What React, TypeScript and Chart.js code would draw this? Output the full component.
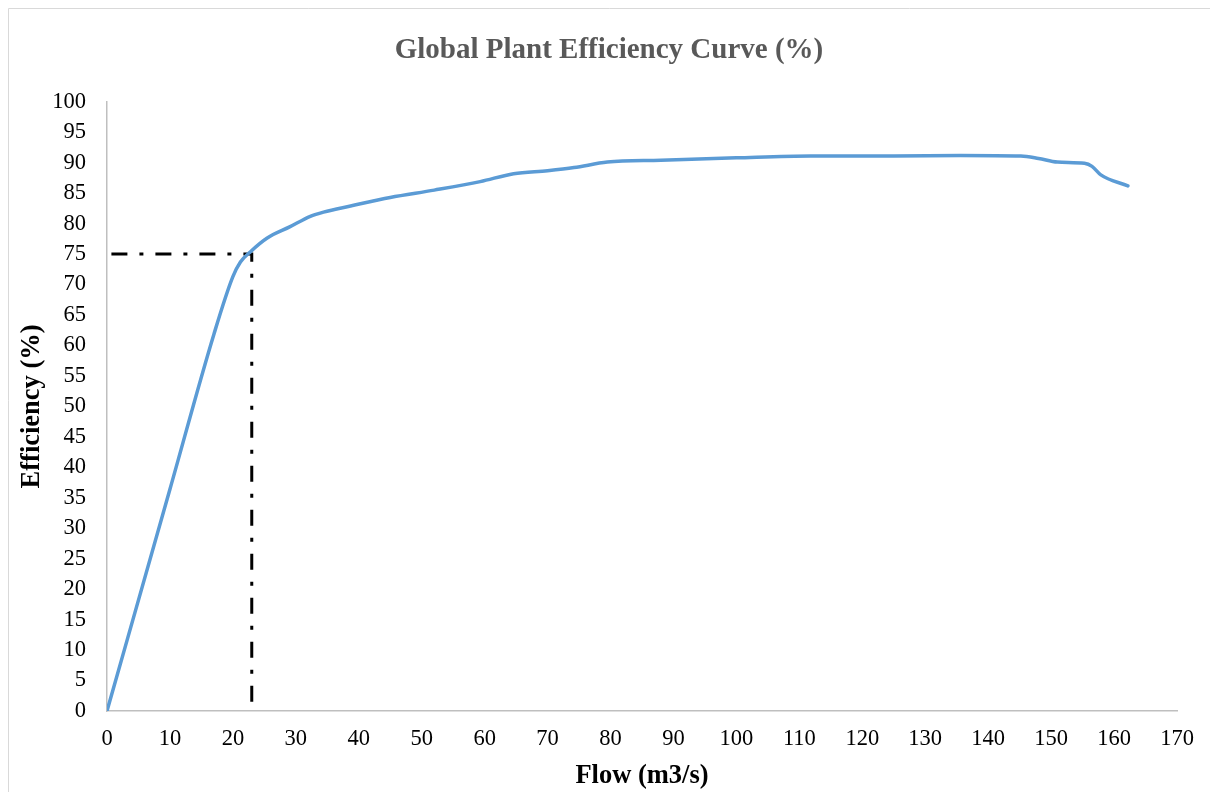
import React, { useEffect, useRef } from "react";
import { Chart, registerables } from "chart.js";

Chart.register(...registerables);

const flowValues = [0, 10, 17, 20, 21.2, 22.8, 25.4, 29.1, 32.3, 34.4, 38.7, 45, 52, 59.3, 64.6, 70, 74.2, 79.5, 88, 100, 111.8, 125, 135.6, 145.2, 148, 151, 155.3, 156.5, 157.9, 162.2];
const efficiencyValues = [0, 36.4, 61.9, 71.3, 73.7, 75.4, 77.6, 79.5, 81.2, 81.9, 82.9, 84.3, 85.5, 86.9, 88.2, 88.7, 89.2, 90.1, 90.4, 90.8, 91.1, 91.1, 91.2, 91.1, 90.7, 90.1, 89.9, 89.4, 88.0, 86.2];

const refFlow = [0.7, 23, 23];
const refEfficiency = [75, 75, 0];

const chartTitle = "Global Plant Efficiency Curve (%)";
const xTitle = "Flow (m3/s)";
const yTitle = "Efficiency (%)";
const xMin = 0, xMax = 170, xStep = 10;
const yMin = 0, yMax = 100, yStep = 5;

const FONT = "'Liberation Serif', 'Times New Roman', serif";

export default function App() {
  const ref = useRef<HTMLCanvasElement | null>(null);

  useEffect(() => {
    if (!ref.current) return;
    const borderPlugin = {
      id: "outerBorder",
      afterDraw(chart: any) {
        const { ctx, width, height } = chart;
        ctx.save();
        ctx.strokeStyle = "#d9d9d9";
        ctx.lineWidth = 1;
        ctx.beginPath();
        ctx.moveTo(0.5, height);
        ctx.lineTo(0.5, 0.5);
        ctx.lineTo(width, 0.5);
        ctx.stroke();
        ctx.restore();
      },
    };
    const chart = new Chart(ref.current, {
      type: "line",
      data: {
        datasets: [
          {
            label: "Efficiency",
            data: flowValues.map((x, i) => ({ x, y: efficiencyValues[i] })),
            borderColor: "#5B9BD5",
            borderWidth: 3.5,
            pointRadius: 0,
            cubicInterpolationMode: "monotone",
            fill: false,
            borderCapStyle: "round",
            borderJoinStyle: "round",
          },
          {
            label: "Reference",
            data: refFlow.map((x, i) => ({ x, y: refEfficiency[i] })),
            borderColor: "#000000",
            borderWidth: 3,
            borderDash: [16, 12, 4, 12],
            pointRadius: 0,
            tension: 0,
            fill: false,
          },
        ],
      },
      options: {
        animation: false,
        responsive: false,
        layout: { padding: { left: 0, right: 0, top: 0, bottom: 0 } },
        plugins: {
          legend: { display: false },
          tooltip: { enabled: false },
          title: {
            display: true,
            text: chartTitle,
            color: "#595959",
            font: { family: FONT, size: 29, weight: "bold" },
            padding: { top: 25, bottom: 34 },
          },
        },
        scales: {
          x: {
            type: "linear",
            min: xMin,
            max: xMax,
            grid: { display: false, drawTicks: false },
            border: { display: true, color: "#bfbfbf", width: 1.5 },
            ticks: {
              stepSize: xStep,
              color: "#000000",
              padding: 15,
              maxRotation: 0,
              font: { family: FONT, size: 22.5 },
            },
            title: {
              display: true,
              text: xTitle,
              color: "#000000",
              font: { family: FONT, size: 26.5, weight: "bold" },
              padding: { top: 0, bottom: 0 },
            },
            afterFit(scale: any) {
              scale.height = 81;
            },
          },
          y: {
            type: "linear",
            min: yMin,
            max: yMax,
            grid: { display: false, drawTicks: false },
            border: { display: true, color: "#bfbfbf", width: 1.5 },
            ticks: {
              stepSize: yStep,
              color: "#000000",
              padding: 21,
              font: { family: FONT, size: 22.5 },
            },
            title: {
              display: true,
              text: yTitle,
              color: "#000000",
              font: { family: FONT, size: 26.5, weight: "bold" },
              padding: { top: 8, bottom: 0 },
            },
            afterFit(scale: any) {
              scale.width = 99;
            },
          },
          yRightSpace: {
            type: "linear",
            position: "right",
            min: yMin,
            max: yMax,
            grid: { display: false, drawTicks: false },
            border: { display: false },
            ticks: { display: false },
            afterFit(scale: any) {
              scale.width = 33;
            },
          },
        },
      },
      plugins: [borderPlugin],
    } as any);
    return () => chart.destroy();
  }, []);

  return (
    <div style={{ position: "absolute", left: 8, top: 8, width: 1202, height: 784 }}>
      <canvas ref={ref} width={1202} height={784} style={{ display: "block" }} />
    </div>
  );
}
